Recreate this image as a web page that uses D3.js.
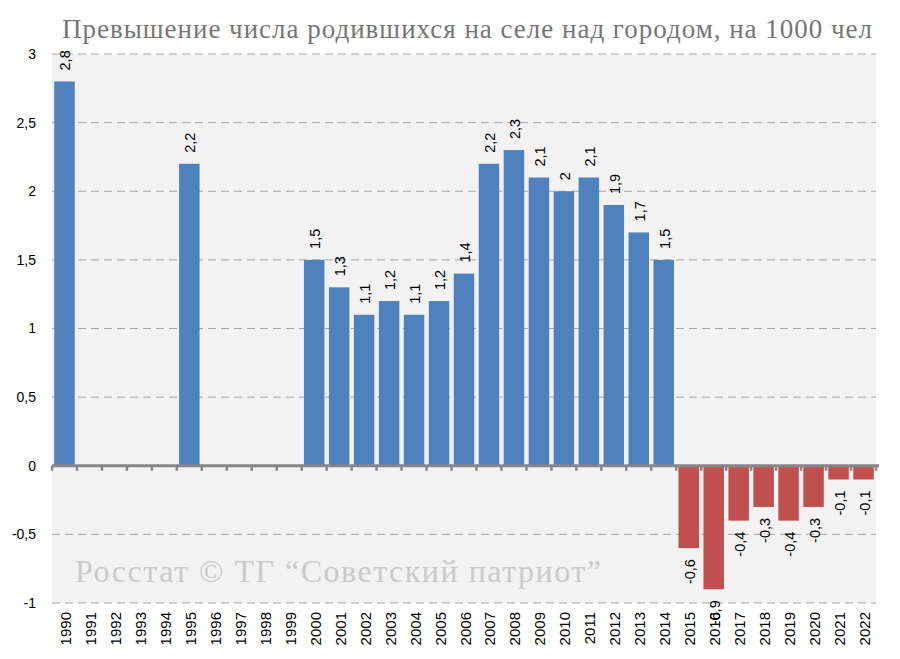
<!DOCTYPE html>
<html><head><meta charset="utf-8">
<script src="https://cdn.jsdelivr.net/npm/d3@7"></script>
<style>body{margin:0;background:#fff}</style>
</head><body>
<svg id="c" width="900" height="659"></svg>
<script>
const years = d3.range(1990, 2023).map(String);
const values = [2.8,null,null,null,null,2.2,null,null,null,null,1.5,1.3,1.1,1.2,1.1,1.2,1.4,2.2,2.3,2.1,2,2.1,1.9,1.7,1.5,-0.6,-0.9,-0.4,-0.3,-0.4,-0.3,-0.1,-0.1];
const yTicks = [-1,-0.5,0,0.5,1,1.5,2,2.5,3];
const title = "Превышение числа родившихся на селе над городом, на 1000 чел";
const watermark = "Росстат © ТГ “Советский патриот”";

const svg = d3.select("#c");
const L = 52, R = 876, T = 54, B = 603;
const x = d3.scaleBand().domain(years).range([L, R]).paddingInner(0.18).paddingOuter(0.09);
const y = d3.scaleLinear().domain([-1, 3]).range([B, T]);
const fmt = v => String(v).replace(".", ",");
const sans = "Liberation Sans, Arial, sans-serif";
const serif = "Liberation Serif, serif";

svg.append("rect").attr("x", L).attr("y", T).attr("width", R - L).attr("height", B - T).attr("fill", "#f2f2f2");

// gridlines
svg.append("g").selectAll("line").data(yTicks.filter(d => d !== 0)).join("line")
  .attr("x1", L).attr("x2", R).attr("y1", d => y(d)).attr("y2", d => y(d))
  .attr("stroke", "#a6a6a6").attr("stroke-width", 1).attr("stroke-dasharray", "8,5");

// y axis labels
const yAxis = d3.axisLeft(y).tickValues(yTicks).tickFormat(fmt).tickSize(0).tickPadding(16);
const ga = svg.append("g").attr("transform", `translate(${L},0)`).call(yAxis);
ga.select(".domain").remove();
ga.selectAll("text").attr("font-family", sans).attr("font-size", 14).attr("fill", "#000");

// watermark
svg.append("text").attr("x", 75).attr("y", 582).text(watermark)
  .attr("font-family", serif).attr("font-size", 32).attr("fill", "#cacaca")
  .attr("textLength", 526).attr("lengthAdjust", "spacing");

// bars
const data = years.map((yr, i) => ({yr, v: values[i]})).filter(d => d.v !== null);
svg.append("g").selectAll("rect").data(data).join("rect")
  .attr("x", d => x(d.yr)).attr("width", x.bandwidth())
  .attr("y", d => y(Math.max(0, d.v))).attr("height", d => Math.abs(y(d.v) - y(0)))
  .attr("fill", d => d.v >= 0 ? "#4f81bd" : "#c0504d");

// zero axis with ticks
svg.append("line").attr("x1", L).attr("x2", R + 3).attr("y1", y(0)).attr("y2", y(0))
  .attr("stroke", "#868686").attr("stroke-width", 3);
svg.append("g").selectAll("line").data(d3.range(years.length + 1)).join("line")
  .attr("x1", i => L + i * (R - L) / years.length).attr("x2", i => L + i * (R - L) / years.length)
  .attr("y1", y(0)).attr("y2", y(0) + 5).attr("stroke", "#868686").attr("stroke-width", 2.5);

// x labels
svg.append("g").selectAll("text").data(years).join("text")
  .attr("transform", d => `translate(${x(d) + x.bandwidth() / 2 + 1},612) rotate(-90)`)
  .attr("text-anchor", "end").attr("dominant-baseline", "central")
  .attr("font-family", sans).attr("font-size", 15).attr("fill", "#000")
  .text(d => d);

// value labels
svg.append("g").selectAll("text").data(data).join("text")
  .attr("transform", d => `translate(${x(d.yr) + x.bandwidth() / 2 + 1},${d.v >= 0 ? y(d.v) - 11 : y(d.v) + 11}) rotate(-90)`)
  .attr("text-anchor", d => d.v >= 0 ? "start" : "end").attr("dominant-baseline", "central")
  .attr("font-family", sans).attr("font-size", 14.5).attr("fill", "#000")
  .text(d => fmt(d.v));

// title
svg.append("text").attr("x", 62).attr("y", 38).text(title)
  .attr("font-family", serif).attr("font-size", 27).attr("fill", "#767676")
  .attr("textLength", 810).attr("lengthAdjust", "spacing");
</script>
</body></html>
